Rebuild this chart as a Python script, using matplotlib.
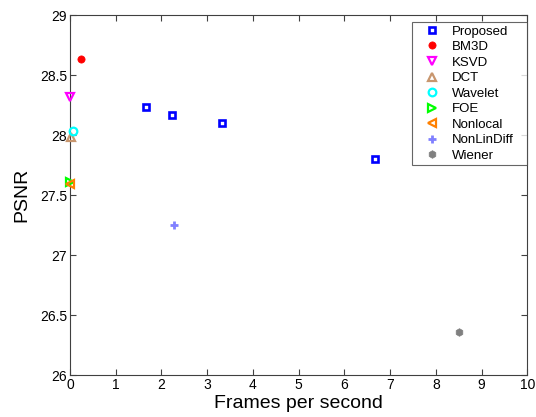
import matplotlib
matplotlib.use("Agg")
import matplotlib.pyplot as plt

plt.rcParams['font.family'] = ['Liberation Sans', 'DejaVu Sans']

methods = ["Proposed", "BM3D", "KSVD", "DCT", "Wavelet", "FOE", "Nonlocal", "NonLinDiff", "Wiener"]
fps = {
    "Proposed": [1.67, 2.22, 3.33, 6.67],
    "BM3D": [0.24],
    "KSVD": [0.01],
    "DCT": [0.02],
    "Wavelet": [0.07],
    "FOE": [0.0],
    "Nonlocal": [0.01],
    "NonLinDiff": [2.27],
    "Wiener": [8.50],
}
psnr = {
    "Proposed": [28.23, 28.17, 28.10, 27.80],
    "BM3D": [28.63],
    "KSVD": [28.32],
    "DCT": [27.98],
    "Wavelet": [28.03],
    "FOE": [27.61],
    "Nonlocal": [27.59],
    "NonLinDiff": [27.25],
    "Wiener": [26.36],
}
x_ticks = list(range(0, 11))
y_ticks = [26, 26.5, 27, 27.5, 28, 28.5, 29]
y_tick_labels = ["26", "26.5", "27", "27.5", "28", "28.5", "29"]

styles = {
    "Proposed": dict(marker='s', mfc='none', mec='#0000FF', ms=5, mew=1.9),
    "BM3D": dict(marker='o', mfc='#FF0000', mec='#FF0000', ms=5.2, mew=0.5),
    "KSVD": dict(marker='v', mfc='none', mec='#FF00FF', ms=5.5, mew=1.6),
    "DCT": dict(marker='^', mfc='none', mec='#C8966E', ms=5.5, mew=1.6),
    "Wavelet": dict(marker='o', mfc='none', mec='#00FFFF', ms=5.5, mew=1.6),
    "FOE": dict(marker='>', mfc='none', mec='#00FF00', ms=5.5, mew=1.6),
    "Nonlocal": dict(marker='<', mfc='none', mec='#FF8000', ms=5.5, mew=1.6),
    "NonLinDiff": dict(marker='+', mfc='none', mec='#8080FF', ms=6, mew=2),
    "Wiener": dict(marker='h', mfc='#808080', mec='#808080', ms=5.5, mew=0.5),
}

fig = plt.figure(figsize=(5.36, 4.17), dpi=100)
ax = fig.add_axes([0.1306, 0.1007, 0.8534, 0.8633])

for m in methods:
    ax.plot(fps[m], psnr[m], linestyle='none', label=m, clip_on=False, zorder=3, **styles[m])

ax.set_xlim(0, 10)
ax.set_ylim(26, 29)
ax.set_xticks(x_ticks)
ax.set_yticks(y_ticks)
ax.set_yticklabels(y_tick_labels)
ax.tick_params(direction='in', top=True, right=True, labelsize=10, length=4, color='#404040', pad=2)
for s in ax.spines.values():
    s.set_color('#404040')
    s.set_linewidth(0.8)

ax.set_xlabel("Frames per second", fontsize=14, labelpad=2)
ax.set_ylabel("PSNR", fontsize=14, labelpad=7)

leg = ax.legend(loc='upper left', bbox_to_anchor=(0.748, 0.9806, 0.252, 0.0), mode='expand',
                fontsize=9.5, frameon=True, fancybox=False, edgecolor='#404040',
                borderaxespad=0.0, handlelength=2.53, labelspacing=0.25, borderpad=0.25,
                handletextpad=0.25)
leg.get_frame().set_linewidth(0.8)
leg.set_zorder(5)

fig.savefig("out.png", dpi=100)
